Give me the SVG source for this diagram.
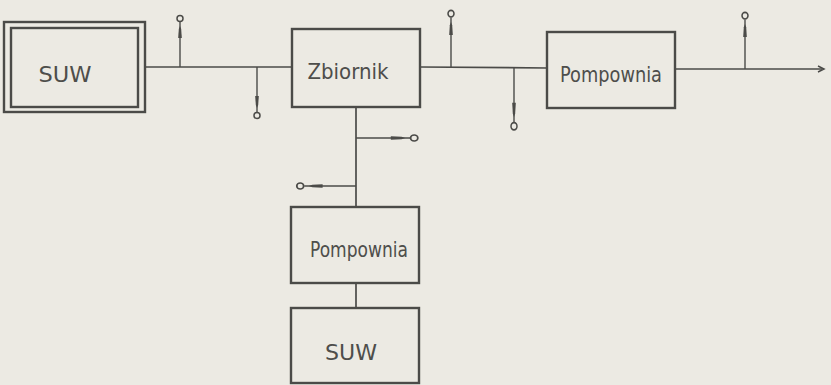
<svg xmlns="http://www.w3.org/2000/svg" width="831" height="385" viewBox="0 0 831 385">
  <defs>
    <style>
      .box { fill: none; stroke: #4b4b48; stroke-width: 2.4; }
      .wire { fill: none; stroke: #4b4b48; stroke-width: 1.7; }
      .tap { fill: none; stroke: #4b4b48; stroke-width: 1.4; }
      .tip { fill: none; stroke: #4b4b48; stroke-width: 1.5; }
      .valve { fill: #4b4b48; stroke: none; }
      .label { font-family: "DejaVu Sans", "Liberation Sans", sans-serif; font-size: 21px; fill: #4e4e4b; text-anchor: middle; }
    </style>
    <!-- tap: stem with thickened valve section and open ring at the end, drawn pointing up from (0,0) -->
    <g id="tapUp">
      <line class="tap" x1="0" y1="0" x2="0" y2="-45"/>
      <path class="valve" d="M-1.8,-29 L-1.2,-38 L0,-41 L1.2,-38 L1.8,-29 Z"/>
      <circle class="tip" cx="0" cy="-48.5" r="3"/>
    </g>
  </defs>

  <rect width="831" height="385" fill="#eceae3"/>

  <g id="connectors">
    <!-- main pipeline -->
    <line class="wire" x1="145" y1="67" x2="292" y2="67"/>
    <line class="wire" x1="420" y1="67" x2="547" y2="68"/>
    <line class="wire" x1="675" y1="69" x2="822" y2="69"/>
    <path class="tip" d="M818,66 L824,69 L818,72"/>
    <!-- branch down from the reservoir -->
    <line class="wire" x1="356" y1="107" x2="356" y2="207"/>
    <line class="wire" x1="356" y1="283" x2="356" y2="308"/>
    <!-- service taps -->
    <use href="#tapUp" x="180" y="67"/>
    <use href="#tapUp" transform="translate(257,67) rotate(180)"/>
    <use href="#tapUp" transform="translate(451,67) scale(1,1.1)"/>
    <use href="#tapUp" transform="translate(514,68) rotate(180) scale(1,1.2)"/>
    <use href="#tapUp" transform="translate(745,69) scale(1,1.1)"/>
    <use href="#tapUp" transform="translate(356,138) rotate(90) scale(1,1.2)"/>
    <use href="#tapUp" transform="translate(356,186) rotate(-90) scale(1,1.15)"/>
  </g>

  <g id="suw-top">
    <rect class="box" x="4" y="22" width="141" height="90"/>
    <rect class="box" x="11" y="28" width="127" height="79"/>
    <text class="label" x="65" y="82" textLength="53" lengthAdjust="spacingAndGlyphs">SUW</text>
  </g>

  <g id="zbiornik">
    <rect class="box" x="292" y="29" width="128" height="78"/>
    <text class="label" x="348" y="79" textLength="81" lengthAdjust="spacingAndGlyphs">Zbiornik</text>
  </g>

  <g id="pompownia-right">
    <rect class="box" x="547" y="32" width="128" height="76"/>
    <text class="label" x="611" y="82" textLength="102" lengthAdjust="spacingAndGlyphs">Pompownia</text>
  </g>

  <g id="pompownia-bottom">
    <rect class="box" x="291" y="207" width="128" height="76"/>
    <text class="label" x="359" y="257" textLength="98" lengthAdjust="spacingAndGlyphs">Pompownia</text>
  </g>

  <g id="suw-bottom">
    <rect class="box" x="291" y="308" width="128" height="75"/>
    <text class="label" x="351" y="360" textLength="52" lengthAdjust="spacingAndGlyphs">SUW</text>
  </g>
</svg>
